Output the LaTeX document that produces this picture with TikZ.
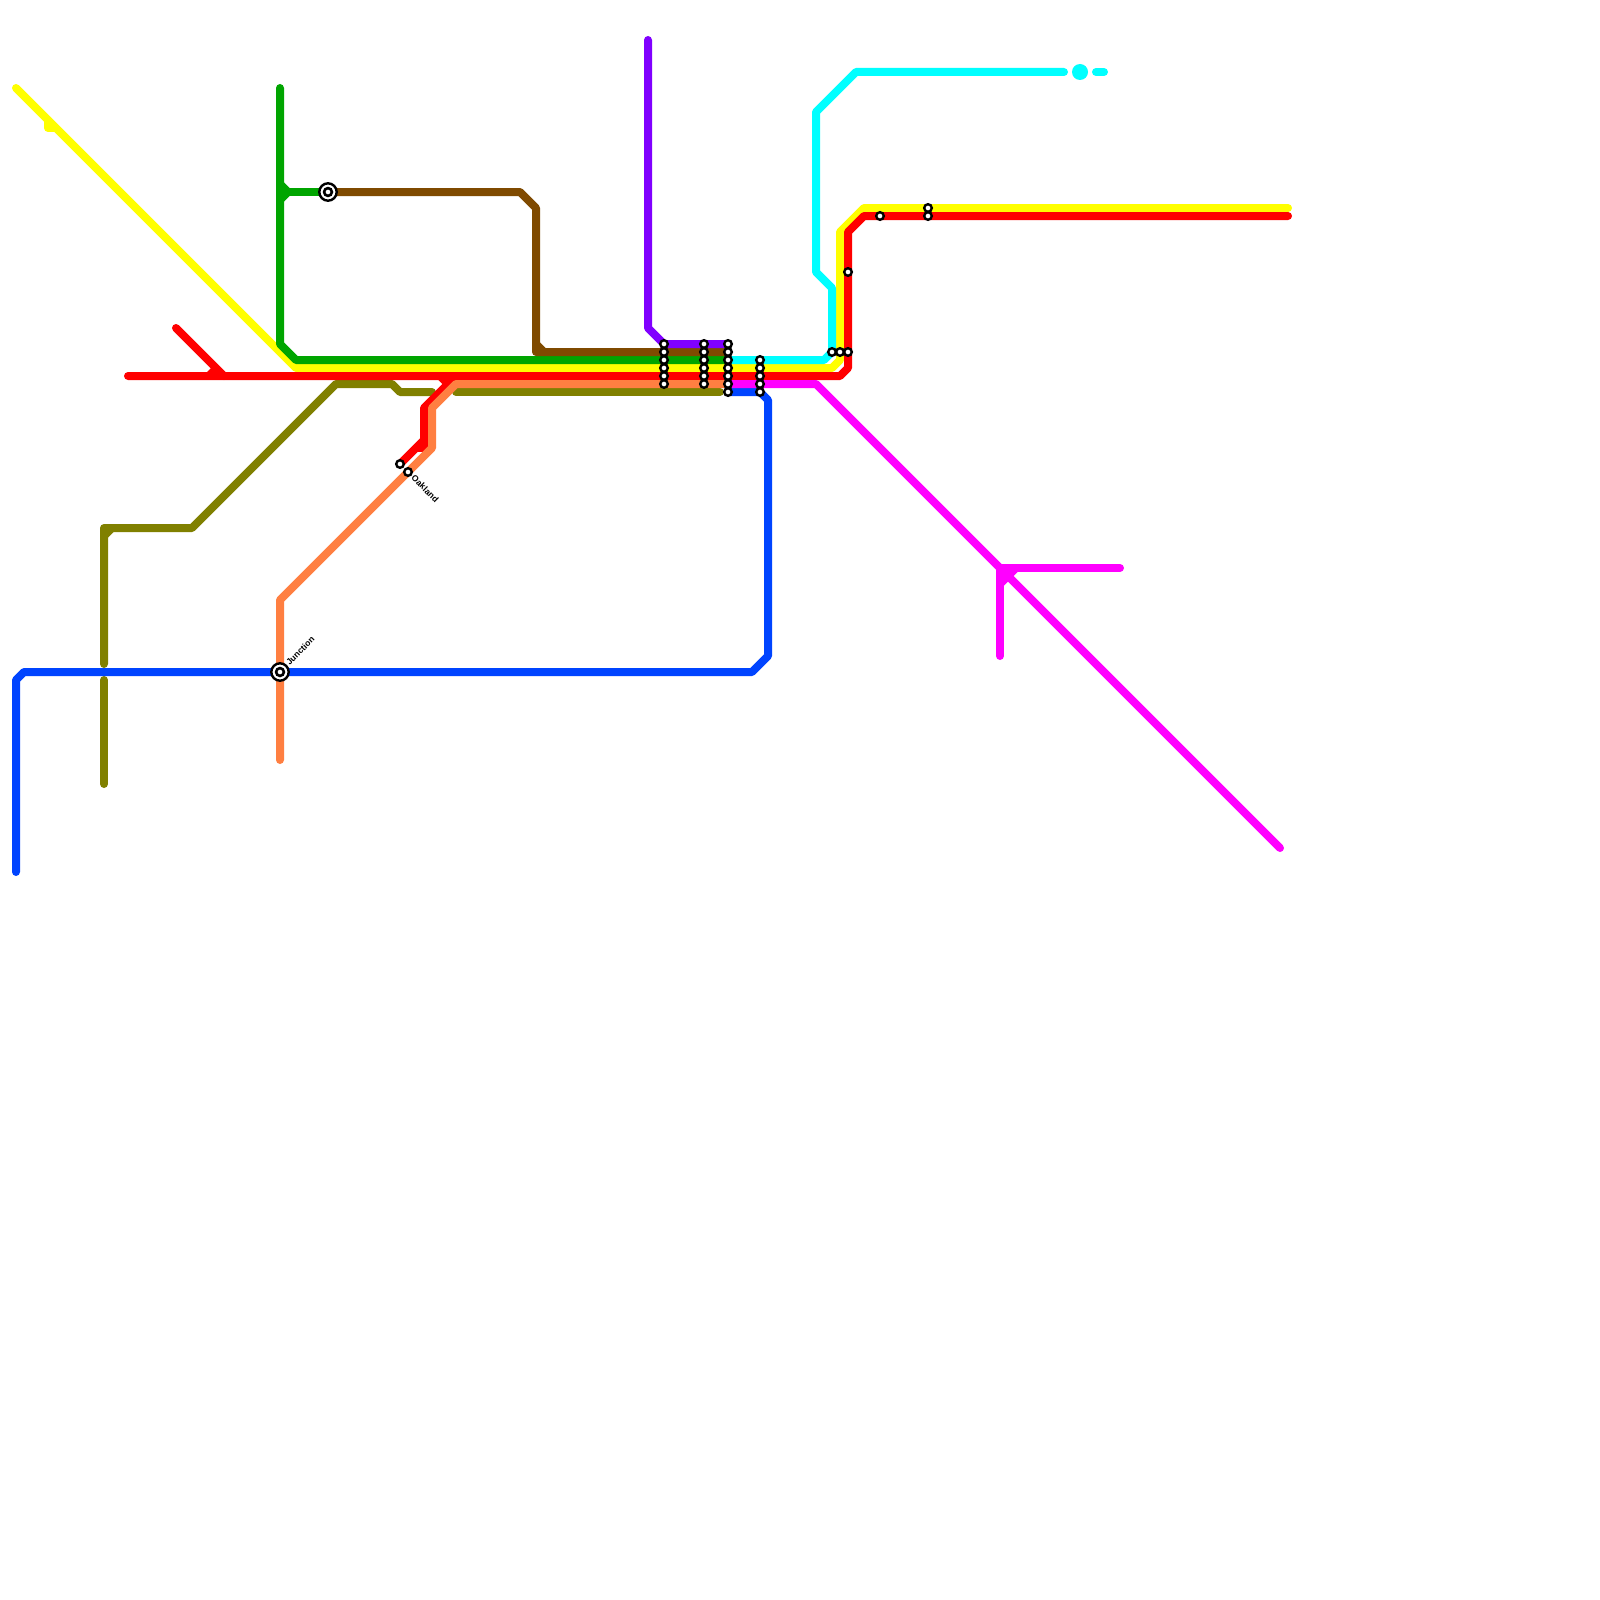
\documentclass[tikz,border=0pt]{standalone}
\usepackage{fontspec}
\setmainfont{Liberation Sans}
\definecolor{lyellow}{HTML}{FFFF00}
\definecolor{lred}{HTML}{FF0000}
\definecolor{lgreen}{HTML}{00A500}
\definecolor{lbrown}{HTML}{7F4A00}
\definecolor{lpurple}{HTML}{8000FF}
\definecolor{lcyan}{HTML}{00FFFF}
\definecolor{lmagenta}{HTML}{FF00FF}
\definecolor{lblue}{HTML}{0044FF}
\definecolor{lorange}{HTML}{FF7F41}
\definecolor{lolive}{HTML}{808000}
\tikzset{
  metro/.style={line width=8pt,line cap=round,line join=round},
  stn/.style={circle,draw=black,fill=white,line width=2.4pt,minimum size=7.6pt,inner sep=0pt},
  hub/.style={circle,draw=black,fill=white,line width=2.4pt,minimum size=17.4pt,inner sep=0pt},
  hubcore/.style={circle,draw=black,fill=white,line width=2.6pt,minimum size=7.8pt,inner sep=0pt},
  lbl/.style={font=\fontsize{8.6}{8.6}\selectfont\bfseries,inner sep=0pt},
}
\begin{document}
\begin{tikzpicture}[x=1pt,y=-1pt]
\useasboundingbox (0,0) rectangle (1600,1600);
\fill[white] (0,0) rectangle (1600,1600);
% olive
\draw[metro,lolive] (720,392) -- (456,392);
\draw[metro,lolive] (432,392) -- (400,392) -- (392,384) -- (336,384) -- (192,528) -- (104,528) -- (104,664);
\draw[metro,lolive] (104,536) -- (112,528);
\draw[metro,lolive] (104,680) -- (104,784);
% yellow
\draw[metro,lyellow] (16,88) -- (296,368) -- (832,368) -- (840,360) -- (840,232) -- (864,208) -- (1288,208);
\draw[metro,lyellow] (48,120) -- (48,128) -- (54,128);
% green
\draw[metro,lgreen] (280,88) -- (280,344) -- (296,360) -- (728,360);
\draw[metro,lgreen] (280,184) -- (288,192) -- (280,200);
\draw[metro,lgreen] (288,192) -- (328,192);
% brown
\draw[metro,lbrown] (328,192) -- (520,192) -- (536,208) -- (536,352) -- (728,352);
\draw[metro,lbrown] (536,344) -- (544,352);
% purple
\draw[metro,lpurple] (648,40) -- (648,328) -- (664,344) -- (728,344);
% cyan
\draw[metro,lcyan] (728,360) -- (824,360) -- (832,352) -- (832,288) -- (816,272) -- (816,112) -- (856,72) -- (1064,72);
\fill[lcyan] (1080,72) circle[radius=8];
\draw[metro,lcyan] (1096,72) -- (1104,72);
% red
\draw[metro,lred] (128,376) -- (840,376) -- (848,368) -- (848,232) -- (864,216) -- (1288,216);
\draw[metro,lred] (176,328) -- (224,376);
\fill[lred] (212,367) -- (207,372) -- (224,372) -- cycle;
\draw[metro,lred] (400,464) -- (424,440) -- (424,408) -- (456,376);
\draw[metro,lred] (424,440) -- (424,448) -- (418,448);
\draw[line width=8pt,lred] (440,376) -- (448,384);
% orange
\draw[metro,lorange] (280,760) -- (280,600) -- (432,448) -- (432,408) -- (456,384) -- (728,384);
% blue
\draw[metro,lblue] (16,872) -- (16,680) -- (24,672) -- (752,672) -- (768,656) -- (768,400) -- (760,392) -- (728,392);
% magenta
\draw[metro,lmagenta] (728,384) -- (816,384) -- (1280,848);
\draw[metro,lmagenta] (1000,656) -- (1000,568) -- (1120,568);
\draw[metro,lmagenta] (1000,584) -- (1016,568);
% stations
\foreach \x/\n in {664/a,704/b,728/c}
  \foreach \y in {344,352,360,368,376,384}
    \node[stn] (s\n\y) at (\x,\y) {};
\node[stn] (sc392) at (728,392) {};
\foreach \y in {360,368,376,384,392}
  \node[stn] (sd\y) at (760,\y) {};
\foreach \x in {832,840,848}
  \node[stn] (se\x) at (\x,352) {};
\node[stn] (sf) at (848,272) {};
\node[stn] (sg) at (880,216) {};
\node[stn] (sh1) at (928,208) {};
\node[stn] (sh2) at (928,216) {};
\node[stn] (si) at (400,464) {};
\node[stn] (sj) at (408,472) {};
\node[hub] (hubA) at (328,192) {};
\node[hubcore] (hubAc) at (328,192) {};
\node[hub] (hubB) at (280,672) {};
\node[hubcore] (hubBc) at (280,672) {};
% labels
\node[lbl,anchor=west,rotate=-45] (oak) at (413,476.5) {Oakland};
\node[lbl,anchor=west,rotate=45] (jun) at (287.5,663.5) {Junction};
\end{tikzpicture}
\end{document}
